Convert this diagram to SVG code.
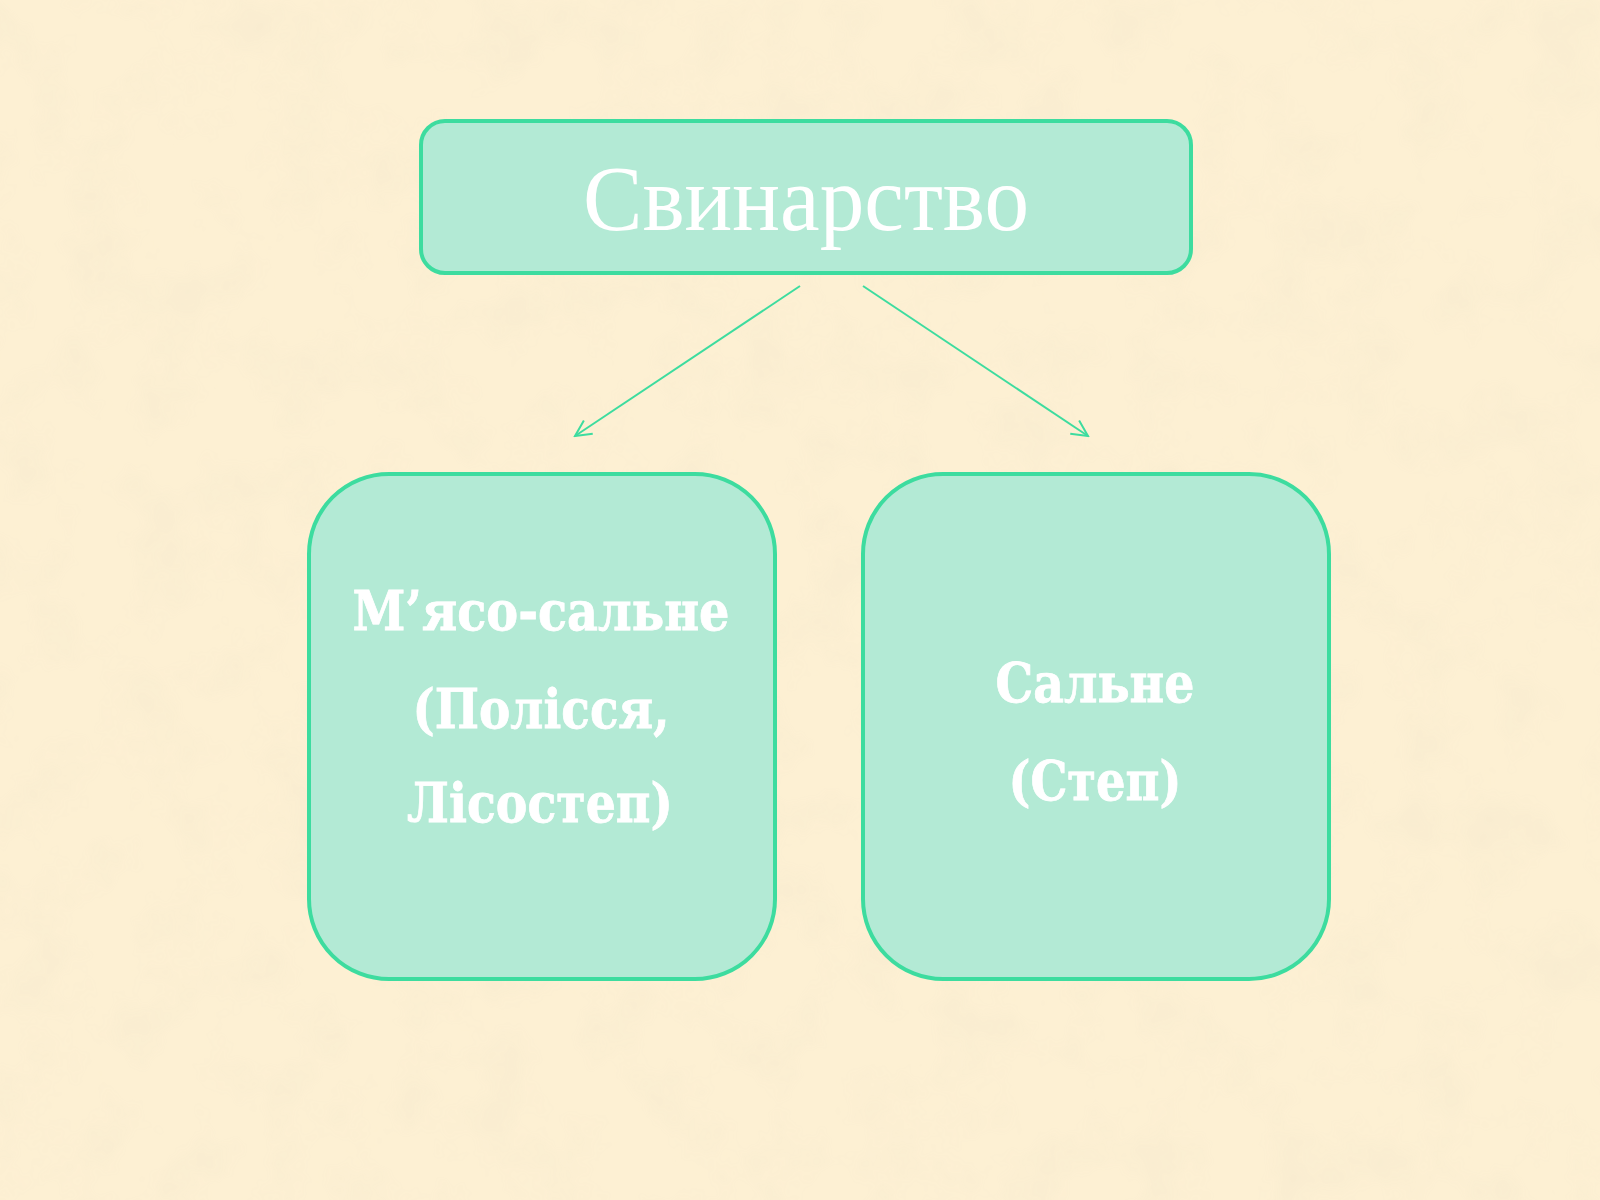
<svg xmlns="http://www.w3.org/2000/svg" width="1600" height="1200" viewBox="0 0 1600 1200">
  <defs>
    <filter id="parch" x="0" y="0" width="100%" height="100%">
      <feTurbulence type="fractalNoise" baseFrequency="0.015" numOctaves="4" seed="7" result="n"/>
      <feColorMatrix type="matrix" in="n" values="0 0 0 0 0.92  0 0 0 0 0.82  0 0 0 0 0.62  0 0 0 -2.2 1.25"/>
    </filter>
    <marker id="arr" viewBox="0 0 20 20" refX="18" refY="10" markerWidth="20" markerHeight="20" markerUnits="userSpaceOnUse" orient="auto">
      <path d="M2,2 L18,10 L2,18" fill="none" stroke="#3ddc9f" stroke-width="2"/>
    </marker>
    <style>
      .box { fill: #b3ead5; stroke: #3ddc9f; stroke-width: 4; }
      .title { font-family: "Liberation Serif", "DejaVu Serif", serif; font-size: 94px; fill: #ffffff; text-anchor: middle; }
      .lbl { font-family: "DejaVu Serif", "Liberation Serif", serif; font-weight: bold; font-size: 54px; fill: #ffffff; stroke: #ffffff; stroke-width: 0.8; text-anchor: middle; }
      .conn { stroke: #3ddc9f; stroke-width: 2; fill: none; }
    </style>
  </defs>
  <rect x="0" y="0" width="1600" height="1200" fill="#fdf0d3"/>
  <rect x="0" y="0" width="1600" height="1200" filter="url(#parch)" opacity="0.5"/>

  <g id="connectors">
    <line class="conn" x1="800" y1="286" x2="575" y2="436" marker-end="url(#arr)"/>
    <line class="conn" x1="863" y1="286" x2="1088" y2="436" marker-end="url(#arr)"/>
  </g>

  <g id="node-svynarstvo">
    <rect class="box" x="421" y="121" width="770" height="152" rx="24"/>
    <text class="title" x="806" y="230" textLength="446" lengthAdjust="spacingAndGlyphs">Свинарство</text>
  </g>

  <g id="node-myaso-salne">
    <rect class="box" x="309" y="474" width="466" height="505" rx="80"/>
    <text class="lbl" x="541" y="630" textLength="377" lengthAdjust="spacingAndGlyphs">М’ясо-сальне</text>
    <text class="lbl" x="541" y="728" textLength="257" lengthAdjust="spacingAndGlyphs">(Полісся,</text>
    <text class="lbl" x="540" y="822" textLength="266" lengthAdjust="spacingAndGlyphs">Лісостеп)</text>
  </g>

  <g id="node-salne">
    <rect class="box" x="863" y="474" width="466" height="505" rx="80"/>
    <text class="lbl" x="1095" y="702" textLength="199" lengthAdjust="spacingAndGlyphs">Сальне</text>
    <text class="lbl" x="1095" y="800" textLength="173" lengthAdjust="spacingAndGlyphs">(Степ)</text>
  </g>
</svg>
